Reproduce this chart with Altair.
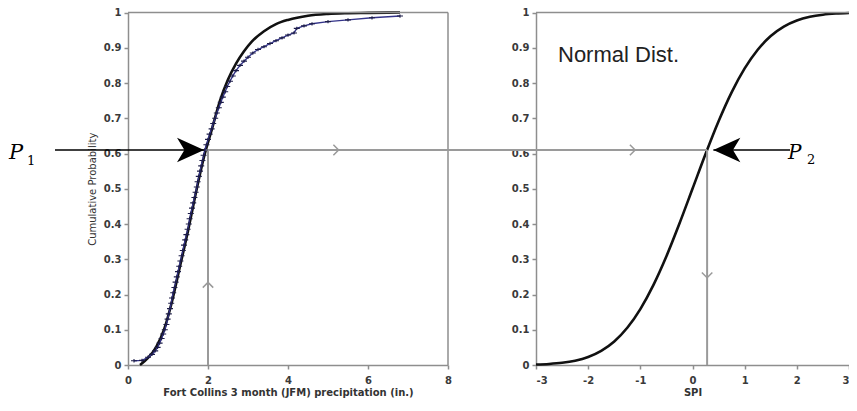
import altair as alt
import pandas as pd

# ---------------- data ----------------
# Fitted (gamma) CDF of Fort Collins JFM precipitation
gamma_x = [0.30, 0.50, 0.70, 0.90, 1.10, 1.30, 1.50, 1.70, 1.90, 2.10, 2.30, 2.50,
           2.70, 2.90, 3.10, 3.40, 3.70, 4.00, 4.50, 5.00, 5.50, 6.00, 6.80]
gamma_p = [0.000, 0.020, 0.050, 0.100, 0.180, 0.280, 0.380, 0.490, 0.590, 0.670, 0.750, 0.810,
           0.855, 0.890, 0.918, 0.947, 0.967, 0.979, 0.991, 0.996, 0.998, 0.999, 1.000]

# Empirical cumulative probability (observations)
emp_x = [0.15, 0.35, 0.50, 0.60, 0.68, 0.74, 0.79, 0.84, 0.88, 0.92, 0.96, 0.99, 1.02, 1.05,
         1.08, 1.10, 1.13, 1.16, 1.19, 1.22, 1.25, 1.28, 1.31, 1.34, 1.37, 1.40, 1.43, 1.46,
         1.49, 1.52, 1.54, 1.57, 1.60, 1.63, 1.66, 1.69, 1.72, 1.74, 1.77, 1.80, 1.83, 1.86,
         1.89, 1.92, 1.96, 2.00, 2.04, 2.09, 2.13, 2.18, 2.22, 2.27, 2.32, 2.37, 2.43, 2.48,
         2.55, 2.62, 2.70, 2.80, 2.90, 3.00, 3.12, 3.25, 3.40, 3.55, 3.70, 3.85, 4.00, 4.15,
         4.22, 4.40, 4.60, 5.00, 5.50, 6.10, 6.80]
emp_p = [0.012, 0.013, 0.022, 0.030, 0.040, 0.050, 0.062, 0.075, 0.088, 0.100, 0.115, 0.130,
         0.145, 0.160, 0.175, 0.190, 0.205, 0.220, 0.235, 0.250, 0.265, 0.280, 0.295, 0.310,
         0.325, 0.340, 0.355, 0.370, 0.385, 0.400, 0.415, 0.430, 0.445, 0.460, 0.475, 0.490,
         0.505, 0.520, 0.535, 0.550, 0.565, 0.580, 0.595, 0.610, 0.625, 0.640, 0.655, 0.670,
         0.685, 0.700, 0.715, 0.730, 0.745, 0.760, 0.775, 0.790, 0.805, 0.820, 0.835, 0.850,
         0.862, 0.873, 0.885, 0.895, 0.903, 0.912, 0.920, 0.928, 0.936, 0.942, 0.955, 0.962,
         0.968, 0.974, 0.979, 0.985, 0.990]

# Standard normal CDF (right panel)
spi_x = [-3.0, -2.75, -2.5, -2.25, -2.0, -1.75, -1.5, -1.25, -1.0, -0.75, -0.5, -0.25, 0.0,
         0.25, 0.5, 0.75, 1.0, 1.25, 1.5, 1.75, 2.0, 2.25, 2.5, 2.75, 3.0]
spi_p = [0.0013, 0.0030, 0.0062, 0.0122, 0.0228, 0.0401, 0.0668, 0.1056, 0.1587, 0.2266,
         0.3085, 0.4013, 0.5000, 0.5987, 0.6915, 0.7734, 0.8413, 0.8944, 0.9332, 0.9599,
         0.9772, 0.9878, 0.9938, 0.9970, 0.9987]

left_xticks = [0, 2, 4, 6, 8]
right_xticks = [-3, -2, -1, 0, 1, 2, 3]
y_ticks = [0, 0.1, 0.2, 0.3, 0.4, 0.5, 0.6, 0.7, 0.8, 0.9, 1]

P_LEVEL = 0.61       # cumulative probability P1 = P2
P1_PRECIP = 1.9      # where P1 arrow meets the curve
PRECIP_VLINE = 2.0   # vertical guide in left panel
SPI_VALUE = 0.28     # SPI at P2
P2_TIP = 0.40        # tip of the P2 arrow
CHEV_LEFT_X = 5.2
CHEV_LEFT_Y = 0.227
CHEV_RIGHT_X = -1.15
CHEV_RIGHT_Y = 0.255

# ---------------- layout ----------------
W, H = 841, 357
PAD_BOTTOM = 33
LEFT_RANGE = [120, 440]
RIGHT_RANGE = [528, 841]
Y_RANGE = [357, 4.5]

GRID_GRAY = "#8e8e8e"
GUIDE_GRAY = "#9a9a9a"


def xl_scale():
    return alt.Scale(domain=[0, 8], range=LEFT_RANGE, nice=False, zero=False)


def xr_scale():
    return alt.Scale(domain=[-3, 3], range=RIGHT_RANGE, nice=False, zero=False)


def y_scale():
    return alt.Scale(domain=[0, 1], range=Y_RANGE, nice=False, zero=False)


axis_common = dict(
    domainColor=GRID_GRAY, domainWidth=1.5, tickColor=GRID_GRAY, tickWidth=1.5, tickSize=4,
    labelFont="DejaVu Sans", labelFontSize=10, labelFontWeight="bold", labelColor="#3a3a3a",
    titleFont="DejaVu Sans", titleFontSize=10, titleColor="#333333", grid=False,
    labelOverlap=False,
)

ax_left_x = alt.Axis(values=left_xticks, orient="bottom", title="Fort Collins 3 month (JFM) precipitation (in.)",
                     titleFontWeight="bold", labelPadding=6, titlePadding=2, labelFlush=False,
                     **axis_common)
ax_right_x = alt.Axis(values=right_xticks, orient="bottom", title="SPI", labelExpr="'' + datum.value",
                      titleFontWeight="bold", labelPadding=6, titlePadding=2, labelFlush=True,
                      **axis_common)
ax_left_y = alt.Axis(values=y_ticks, format="~g", orient="left", offset=-LEFT_RANGE[0],
                     title="Cumulative Probability", titleFontWeight="normal", titlePadding=6,
                     labelPadding=3, labelFlush=False, **axis_common)
ax_right_y = alt.Axis(values=y_ticks, format="~g", orient="left", offset=-RIGHT_RANGE[0],
                      title="", labelPadding=3, labelFlush=False, **axis_common)

one = pd.DataFrame({"k": [0]})
gamma_df = pd.DataFrame({"precip": gamma_x, "p": gamma_p})
emp_df = pd.DataFrame({"precip": emp_x, "p": emp_p})
norm_df = pd.DataFrame({"spi": spi_x, "p": spi_p})

CHEVRON = "M-0.5,-1L0.5,0L-0.5,1"
ARROW = "M1,0L-1,-0.9L-0.45,0L-1,0.9Z"
PLUS = "M-1,0L1,0M0,-0.55L0,0.55"


def lx(v):
    return alt.XDatum(v, scale=xl_scale(), axis=None)


def rx(v):
    return alt.XDatum(v, scale=xr_scale(), axis=None)


def yd(v):
    return alt.YDatum(v, scale=y_scale(), axis=None)


base = alt.Chart(one)

# ---------------- main curves (carry the axes) ----------------
gamma_line = alt.Chart(gamma_df).mark_line(color="#111111", strokeWidth=2.6, interpolate="monotone").encode(
    x=alt.X("precip:Q", scale=xl_scale(), axis=ax_left_x),
    y=alt.Y("p:Q", scale=y_scale(), axis=ax_left_y),
)
norm_line = alt.Chart(norm_df).mark_line(color="#111111", strokeWidth=2.6, interpolate="monotone").encode(
    x=alt.X("spi:Q", scale=xr_scale(), axis=ax_right_x),
    y=alt.Y("p:Q", scale=y_scale(), axis=ax_right_y),
)
emp_line = alt.Chart(emp_df).mark_line(color="#34348a", strokeWidth=1.4).encode(
    x=alt.X("precip:Q", scale=xl_scale(), axis=None),
    y=alt.Y("p:Q", scale=y_scale(), axis=None),
)
emp_pts = alt.Chart(emp_df).mark_point(shape=PLUS, filled=False, size=36, color="#1c1c48",
                                       strokeWidth=1.1, opacity=1).encode(
    x=alt.X("precip:Q", scale=xl_scale(), axis=None),
    y=alt.Y("p:Q", scale=y_scale(), axis=None),
)

# ---------------- left panel annotations ----------------
l_top = base.mark_rule(color=GRID_GRAY, strokeWidth=1.5).encode(x=lx(0), x2=alt.X2Datum(8), y=yd(1))
l_right = base.mark_rule(color=GRID_GRAY, strokeWidth=1.5).encode(x=lx(8), y=yd(0), y2=alt.Y2Datum(1))
l_vguide = base.mark_rule(color=GUIDE_GRAY, strokeWidth=2).encode(
    x=lx(PRECIP_VLINE), y=yd(0), y2=alt.Y2Datum(P_LEVEL))
l_hguide = base.mark_rule(color=GUIDE_GRAY, strokeWidth=2).encode(
    x=lx(P1_PRECIP), x2=alt.X2Datum(8), y=yd(P_LEVEL))
l_chev_h = base.mark_point(shape=CHEVRON, filled=False, size=110, color=GUIDE_GRAY, strokeWidth=1.5,
                           opacity=1).encode(x=lx(CHEV_LEFT_X), y=yd(P_LEVEL))
l_chev_v = base.mark_point(shape=CHEVRON, filled=False, size=110, color=GUIDE_GRAY, strokeWidth=1.5,
                           opacity=1, angle=270).encode(x=lx(PRECIP_VLINE), y=yd(CHEV_LEFT_Y))
p1_line = base.mark_rule(color="black", strokeWidth=1.6).encode(
    x=lx(P1_PRECIP), x2=alt.value(47), y=yd(P_LEVEL))
p1_head = base.mark_point(shape=ARROW, filled=True, size=729, color="black", opacity=1,
                          xOffset=-13.5).encode(x=lx(P1_PRECIP), y=yd(P_LEVEL))
p1_txt = base.mark_text(text="P", font="DejaVu Serif", fontStyle="italic", fontSize=21,
                        align="left", baseline="alphabetic", color="black").encode(
    x=alt.value(1), y=alt.value(151))
p1_sub = base.mark_text(text="1", font="DejaVu Serif", fontSize=13, align="left",
                        baseline="alphabetic", color="black").encode(x=alt.value(19), y=alt.value(157))

# ---------------- right panel annotations ----------------
r_top = base.mark_rule(color=GRID_GRAY, strokeWidth=1.5).encode(x=rx(-3), x2=alt.X2Datum(3), y=yd(1))
r_vguide = base.mark_rule(color=GUIDE_GRAY, strokeWidth=2).encode(
    x=rx(SPI_VALUE), y=yd(0), y2=alt.Y2Datum(P_LEVEL))
r_hguide = base.mark_rule(color=GUIDE_GRAY, strokeWidth=2).encode(
    x=rx(SPI_VALUE), x2=alt.value(LEFT_RANGE[1]), y=yd(P_LEVEL))
r_chev_h = base.mark_point(shape=CHEVRON, filled=False, size=110, color=GUIDE_GRAY, strokeWidth=1.5,
                           opacity=1).encode(x=rx(CHEV_RIGHT_X), y=yd(P_LEVEL))
r_chev_v = base.mark_point(shape=CHEVRON, filled=False, size=110, color=GUIDE_GRAY, strokeWidth=1.5,
                           opacity=1, angle=90).encode(x=rx(SPI_VALUE), y=yd(CHEV_RIGHT_Y))
p2_line = base.mark_rule(color="black", strokeWidth=1.6).encode(
    x=rx(P2_TIP), x2=alt.value(782), y=yd(P_LEVEL))
p2_head = base.mark_point(shape=ARROW, filled=True, size=729, color="black", opacity=1,
                          angle=180, xOffset=13.5).encode(x=rx(P2_TIP), y=yd(P_LEVEL))
p2_txt = base.mark_text(text="P", font="DejaVu Serif", fontStyle="italic", fontSize=20,
                        align="left", baseline="alphabetic", color="black").encode(
    x=alt.value(780), y=alt.value(151))
p2_sub = base.mark_text(text="2", font="DejaVu Serif", fontSize=13, align="left",
                        baseline="alphabetic", color="black").encode(x=alt.value(799), y=alt.value(156))
norm_txt = base.mark_text(text="Normal Dist.", font="Liberation Sans", fontSize=22,
                          align="left", baseline="alphabetic", color="#222222").encode(
    x=alt.value(550), y=alt.value(54))

chart = alt.layer(
    gamma_line, norm_line,
    l_top, l_right, l_vguide, l_hguide, l_chev_h, l_chev_v,
    r_top, r_vguide, r_hguide, r_chev_h, r_chev_v,
    emp_line, emp_pts,
    p1_line, p1_head, p1_txt, p1_sub,
    p2_line, p2_head, p2_txt, p2_sub, norm_txt,
).resolve_scale(
    x="independent", y="independent"
).resolve_axis(
    x="independent", y="independent"
).properties(
    width=W, height=H,
    autosize=alt.AutoSizeParams(type="none"),
    padding={"left": 0, "top": 0, "right": 0, "bottom": PAD_BOTTOM},
    background="white",
).configure_view(stroke=None)

chart.save("out.html", embed_options={"renderer": "svg", "actions": False})
